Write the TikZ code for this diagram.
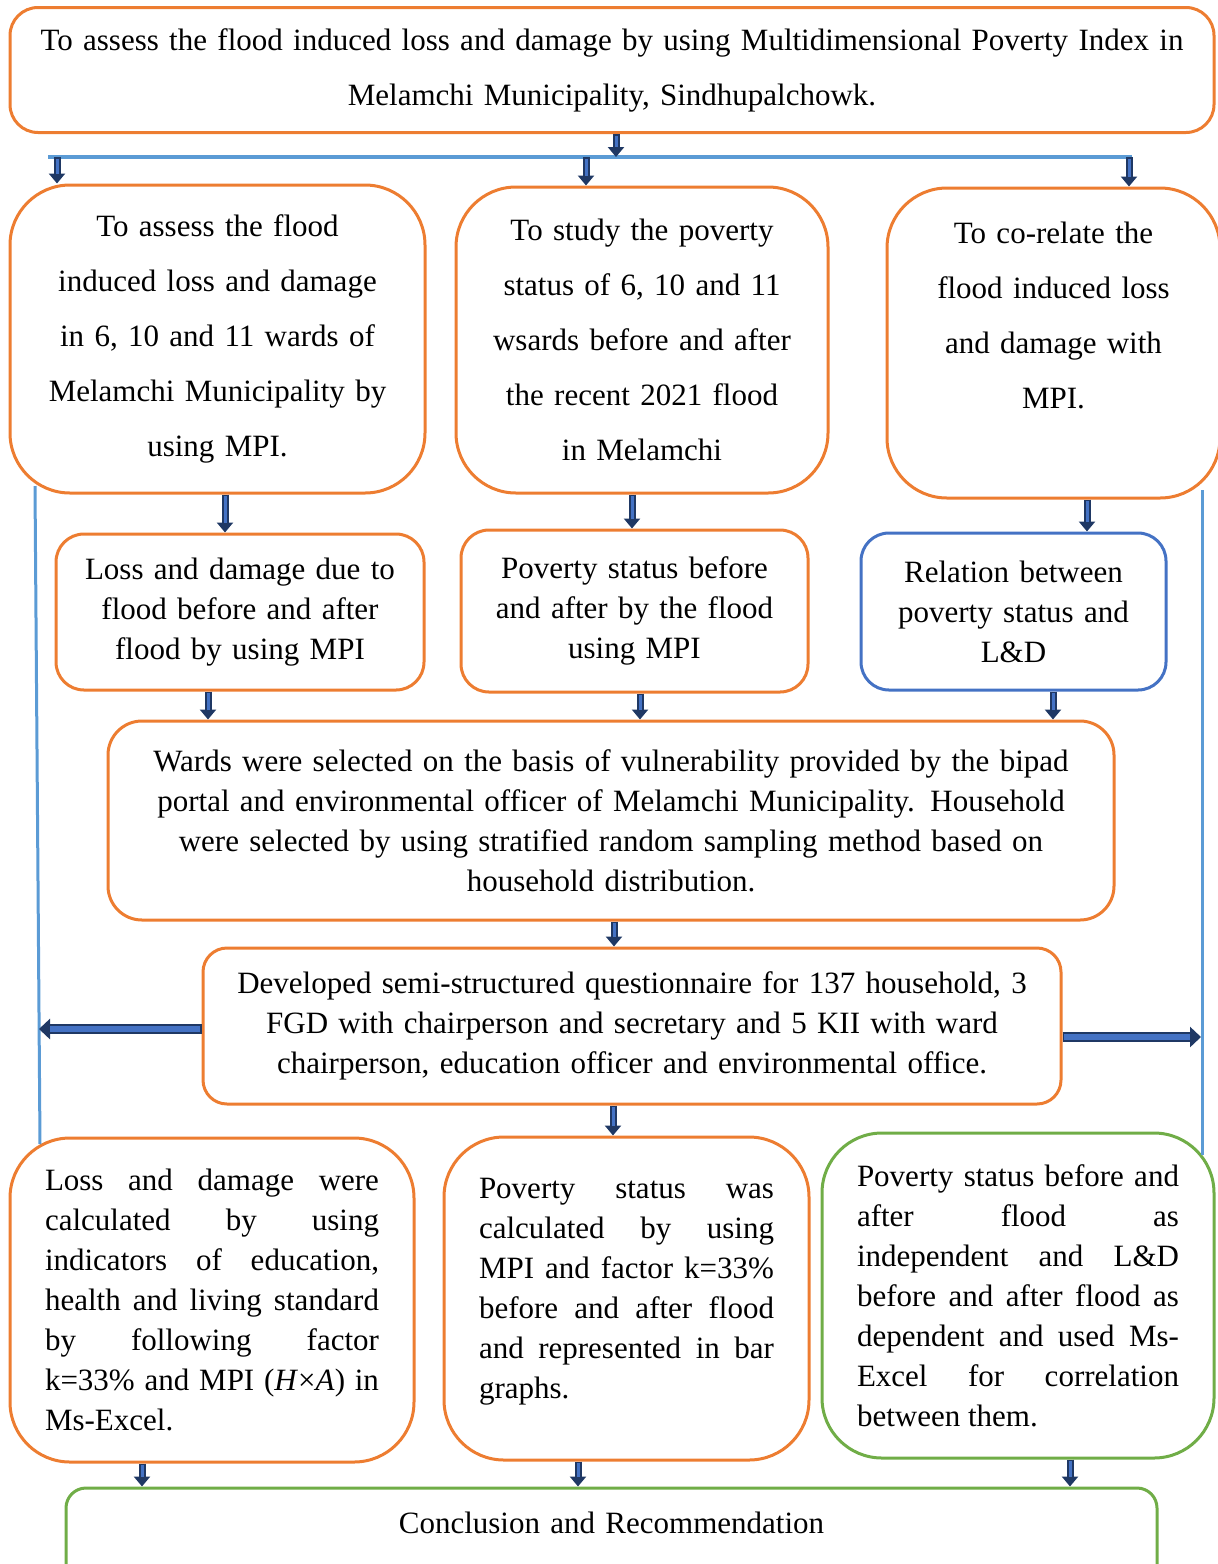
\documentclass[tikz,border=0pt]{standalone}
\usepackage{fontspec}
\setmainfont{Liberation Serif}
\usepackage{tikz}
\usetikzlibrary{arrows.meta}
\definecolor{boxorange}{RGB}{237,125,49}
\definecolor{boxblue}{RGB}{68,114,196}
\definecolor{boxgreen}{RGB}{112,173,71}
\definecolor{linkblue}{RGB}{91,155,213}
\definecolor{arrownavy}{RGB}{31,56,100}
\definecolor{arrowfill}{RGB}{68,114,196}
\tolerance=10000
\hyphenpenalty=10000

\begin{document}
\begin{tikzpicture}[x=0.5pt,y=-0.5pt,
  box/.style={draw=boxorange,line width=1.5pt,rounded corners=14pt,inner sep=0pt,align=center,font=\fontsize{15.5}{20}\selectfont},
  bigbox/.style={box,rounded corners=30pt,font=\fontsize{15.5}{27.5}\selectfont},
  jbox/.style={box,rounded corners=30pt,inner xsep=17.5pt,align=justify},
  barrow/.style={draw=arrownavy,line width=3.5pt,-{Triangle[length=5pt,width=8pt]},postaction={draw=arrowfill,line width=1.5pt,-,shorten >=5pt,shorten <=0.9pt}},
  harrow/.style={draw=arrownavy,line width=5pt,-{Triangle[length=5.5pt,width=10pt]},postaction={draw=arrowfill,line width=2.6pt,-,shorten >=5.5pt,shorten <=0.9pt}},
  bus/.style={draw=linkblue,line width=2pt},
  side/.style={draw=linkblue,line width=1.5pt}]
  \useasboundingbox (0,0) rectangle (1217,1564);

  % aim
  \node[box,text width=602pt,minimum height=62.5pt,font=\fontsize{15.5}{27.5}\selectfont] (aim) at (612,70)
    {To assess the flood induced loss and damage by using Multidimensional Poverty Index in\\Melamchi Municipality, Sindhupalchowk.};

  % objectives
  \node[bigbox,text width=207.5pt,minimum height=154pt] (obj1) at (217.5,339)
    {To assess the flood\\induced loss and damage\\in 6, 10 and 11 wards of\\Melamchi Municipality by\\using MPI.};
  \node[bigbox,text width=186pt,minimum height=153pt] (obj2) at (642,340)
    {To study the poverty\\status of 6, 10 and 11\\wsards before and after\\the recent 2021 flood\\in Melamchi};
  \node[bigbox,text width=166.5pt,minimum height=155pt] (obj3) at (1053.5,343)
    {To co-relate the\\flood induced loss\\and damage with\\MPI.\\\mbox{}};

  % expected outputs
  \node[box,text width=184pt,minimum height=78pt] (out1) at (240,612)
    {Loss and damage due to\\flood before and after\\flood by using MPI};
  \node[box,text width=173.5pt,minimum height=81pt] (out2) at (634.5,611)
    {Poverty status before\\and after by the flood\\using MPI};
  \node[box,draw=boxblue,text width=152.5pt,minimum height=78.5pt] (out3) at (1013.5,611.5)
    {Relation between\\poverty status and\\L\&D};

  % sampling and data collection
  \node[box,rounded corners=17pt,text width=503pt,minimum height=99.5pt] (wards) at (611,820.5)
    {Wards were selected on the basis of vulnerability provided by the bipad\\portal and environmental officer of Melamchi Municipality. Household\\were selected by using stratified random sampling method based on\\household distribution.};
  \node[box,rounded corners=12pt,text width=429pt,minimum height=78pt] (survey) at (632,1026)
    {Developed semi-structured questionnaire for 137 household, 3\\FGD with chairperson and secretary and 5 KII with ward\\chairperson, education officer and environmental office.};

  % analysis
  \node[jbox,text width=167pt,minimum height=162pt] (ana1) at (212,1300)
    {Loss and damage were\linebreak calculated by using\linebreak indicators of education,\linebreak health and living standard\linebreak by following factor\linebreak k=33\% and MPI (\textit{H}×\textit{A}) in\linebreak Ms-Excel.};
  \node[jbox,text width=147.5pt,minimum height=161.5pt] (ana2) at (626.5,1298.5)
    {Poverty status was\linebreak calculated by using\linebreak MPI and factor k=33\%\linebreak before and after flood\linebreak and represented in bar\linebreak graphs.\\[-10pt]\mbox{}};
  \node[jbox,draw=boxgreen,text width=161pt,minimum height=162.5pt] (ana3) at (1018,1295.5)
    {Poverty status before and\linebreak after flood as\linebreak independent and L\&D\linebreak before and after flood as\linebreak dependent and used Ms-\linebreak Excel for correlation\linebreak between them.};

  \node[box,draw=boxgreen,rounded corners=10pt,text width=545.5pt,minimum height=55pt] (concl) at (611.5,1543)
    {Conclusion and Recommendation\\\mbox{}};

  % blue links
  \coordinate (busL) at (48,157);
  \coordinate (busR) at (1132,157);
  \coordinate (lt) at (35,486);
  \coordinate (lb) at (40,1144);
  \coordinate (rt) at (1202,490);
  \coordinate (rb) at (1202,1155);
  \draw[bus] (busL) -- (busR);
  \draw[side] (lt) -- (lb);
  \draw[side] (rt) -- (rb);

  % arrows
  \draw[barrow] (aim.south -| 616,0) -- (busL -| 616,0);
  \draw[barrow] (busL -| 57,0) -- (obj1.north -| 57,0);
  \draw[barrow] (busL -| 586,0) -- (obj2.north -| 586,0);
  \draw[barrow] (busL -| 1129,0) -- (obj3.north -| 1129,0);
  \draw[barrow] (obj1.south -| 225,0) -- (out1.north -| 225,0);
  \draw[barrow] (obj2.south -| 632,0) -- (out2.north -| 632,0);
  \draw[barrow] (obj3.south -| 1087,0) -- (out3.north -| 1087,0);
  \draw[barrow] (out1.south -| 208,0) -- (wards.north -| 208,0);
  \draw[barrow] (out2.south -| 640,0) -- (wards.north -| 640,0);
  \draw[barrow] (out3.south -| 1053,0) -- (wards.north -| 1053,0);
  \draw[barrow] (wards.south -| 614,0) -- (survey.north -| 614,0);
  \draw[barrow] (survey.south -| 613,0) -- (ana2.north -| 613,0);
  \draw[harrow] ([yshift=-1.5pt]survey.west) -- ([yshift=-1.5pt]survey.west -| 39,0);
  \draw[harrow] ([yshift=-5.5pt]survey.east) -- ([yshift=-5.5pt]survey.east -| 1201,0);
  \draw[barrow] (ana1.south -| 142,0) -- (concl.north -| 142,0);
  \draw[barrow] (ana2.south -| 578,0) -- (concl.north -| 578,0);
  \draw[barrow] (ana3.south -| 1070,0) -- (concl.north -| 1070,0);
\end{tikzpicture}
\end{document}
